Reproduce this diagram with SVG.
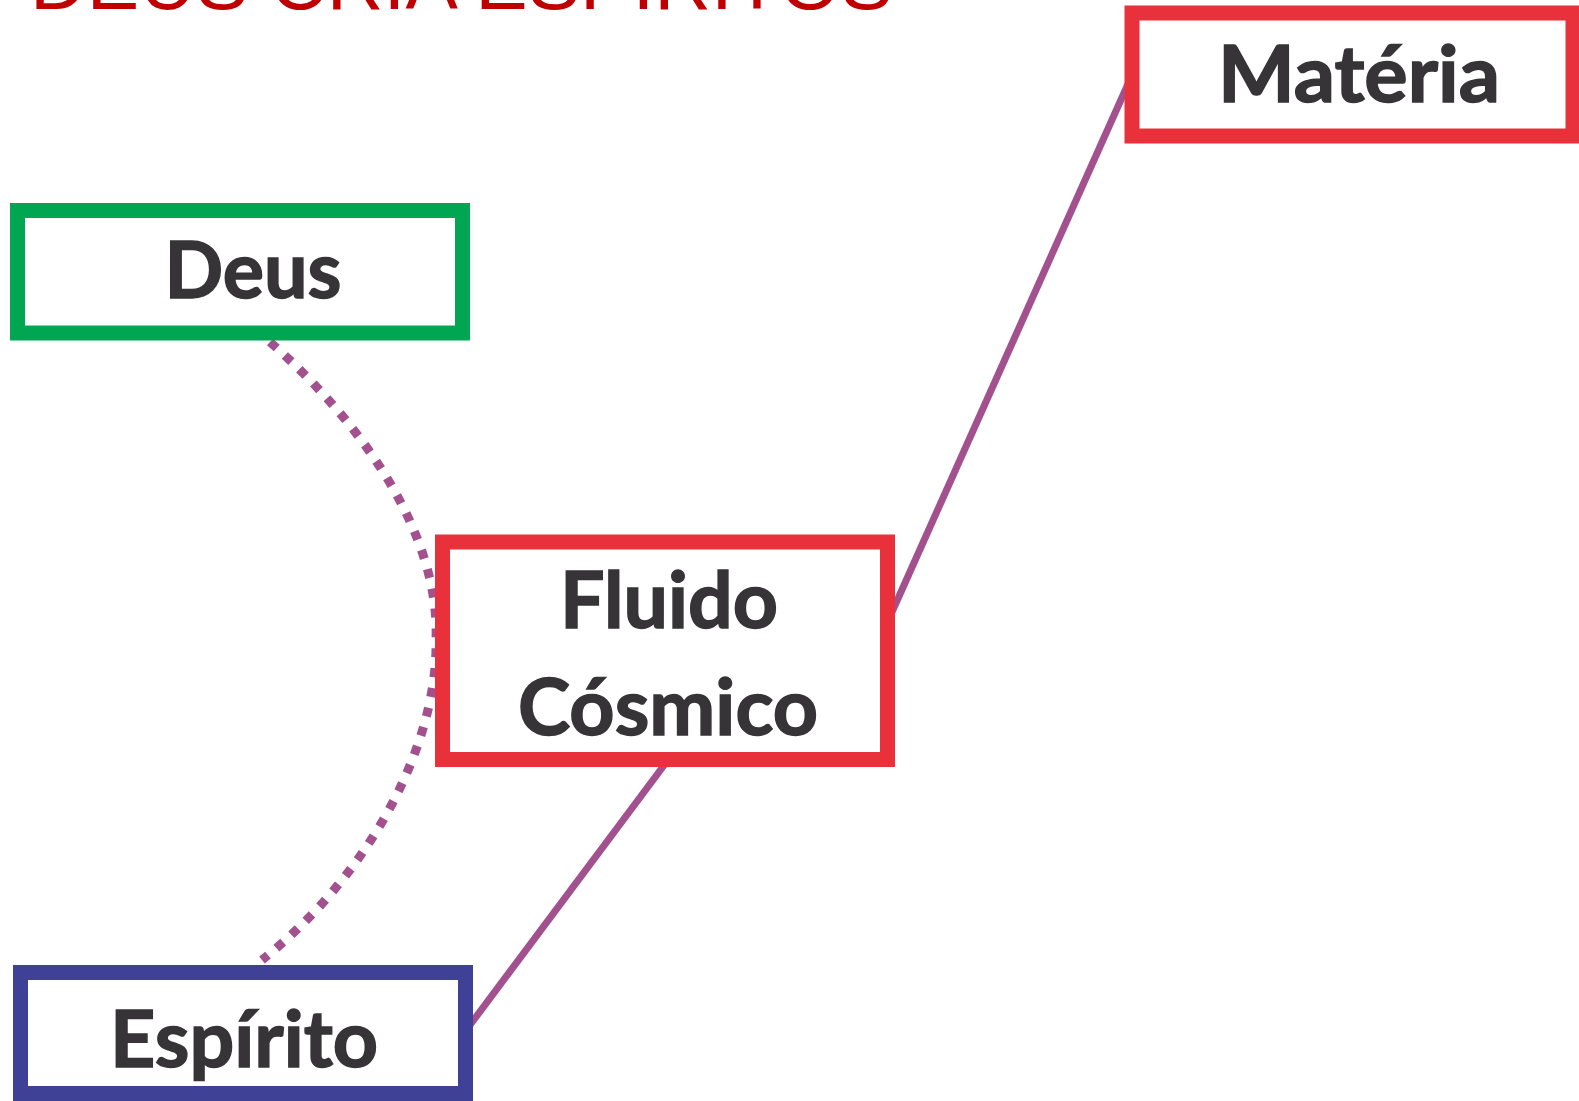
<svg xmlns="http://www.w3.org/2000/svg" width="1579" height="1101" viewBox="0 0 1579 1101">
<style>
.box{fill:#fff;stroke-width:15}
.lbl{font-family:Lato,"Open Sans","Liberation Sans",sans-serif;font-weight:700;font-size:78px;fill:#363436;stroke:#363436;stroke-width:1.5;text-anchor:middle}
.solid{fill:none;stroke:#a3508f;stroke-width:7}
.dot{fill:none;stroke:#a3508f;stroke-width:9;stroke-dasharray:9 11}
</style>
<rect width="1579" height="1101" fill="#fff"/>
<text id="title" x="30" y="9" font-family="'Liberation Sans',Arial,sans-serif" font-size="78" fill="#c00000" textLength="863" lengthAdjust="spacingAndGlyphs">DEUS CRIA ESPÍRITOS</text>
<g id="connectors">
<path class="dot" d="M270 342 C370 430 440 540 436 640 C438 740 375 870 262 960"/>
<line class="solid" x1="1128" y1="84" x2="892" y2="612"/>
<line class="solid" x1="668" y1="760" x2="470" y2="1025"/>
</g>
<g id="deus">
<rect class="box" x="17.5" y="210.5" width="445" height="122.5" stroke="#00a651"/>
<text class="lbl" x="253" y="298" textLength="177" lengthAdjust="spacingAndGlyphs">Deus</text>
</g>
<g id="materia">
<rect class="box" x="1132" y="13" width="441" height="123" stroke="#e8313a"/>
<text class="lbl" x="1359" y="102" textLength="282" lengthAdjust="spacingAndGlyphs">Matéria</text>
</g>
<g id="fluido">
<rect class="box" x="442.5" y="542" width="445" height="217.5" stroke="#e8313a"/>
<text class="lbl" x="669" y="628" textLength="218" lengthAdjust="spacingAndGlyphs">Fluido</text>
<text class="lbl" x="668" y="735" textLength="300" lengthAdjust="spacingAndGlyphs">Cósmico</text>
</g>
<g id="espirito">
<rect class="box" x="20.5" y="972.5" width="445" height="121" stroke="#3f4196"/>
<text class="lbl" x="244" y="1067" textLength="268" lengthAdjust="spacingAndGlyphs">Espírito</text>
</g>
</svg>
